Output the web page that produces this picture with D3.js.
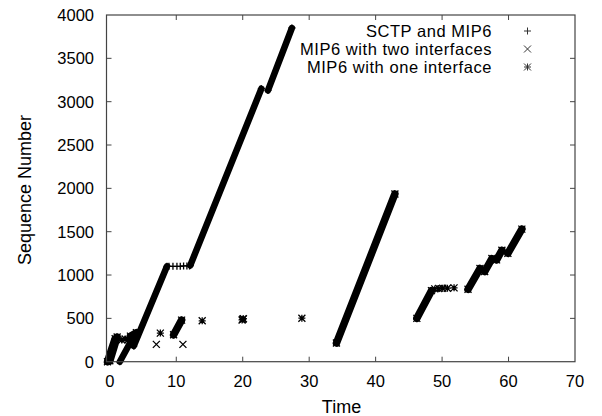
<!DOCTYPE html>
<html>
<head>
<meta charset="utf-8">
<script src="https://cdn.jsdelivr.net/npm/d3@7"></script>
<style>
  body { margin: 0; background: #fff; }
  svg text { font-family: "Liberation Sans", Arial, Helvetica, sans-serif; fill: #000; }
</style>
</head>
<body>
<div id="dataviz"></div>
<script>
// dense runs of packets, drawn as bands: [t0, seq0, t1, seq1]
var sctpRuns = [[1.5, 0, 3.1, 225], [3.6, 180, 8.6, 1100], [12.1, 1110, 22.8, 3150], [23.8, 3130, 27.4, 3850]];
var sctpPoints = [[8.9, 1100], [9.5, 1100], [10.1, 1100], [10.6, 1100], [11.1, 1105], [11.6, 1105], [12.0, 1105]];

var twoRuns = [[34.1, 215, 42.9, 1935]];
var twoPoints = [[7.0, 200], [11.0, 200]];

var oneRuns = [[-0.35, 0, 0.8, 265], [0.0, 10, 1.1, 285], [3.1, 295, 4.0, 335],
               [9.6, 310, 10.8, 480], [46.2, 500, 48.4, 820], [53.9, 835, 55.7, 1075],
               [56.4, 1040, 57.5, 1190], [58.2, 1175, 59.0, 1285], [59.9, 1250, 62.0, 1530]];
var onePoints = [[1.8, 250], [2.3, 262], [2.8, 255], [3.2, 270], [7.6, 330], [13.9, 472],
                 [19.9, 482], [20.0, 490], [20.1, 496], [28.9, 502],
                 [48.9, 840], [49.5, 845], [50.1, 848], [50.8, 848], [51.8, 852]];

var seriesNames = ["SCTP and MIP6", "MIP6 with two interfaces", "MIP6 with one interface"];
var seriesMarks = ["plus", "cross", "star"];
var seriesRuns = [sctpRuns, twoRuns, oneRuns];
var seriesPoints = [sctpPoints, twoPoints, onePoints];

var xTicks = [0, 10, 20, 30, 40, 50, 60, 70];
var yTicks = [0, 500, 1000, 1500, 2000, 2500, 3000, 3500, 4000];

function drawChart() {
    var W = 602, H = 416;
    var m = { left: 106.5, right: 575, top: 15, bottom: 361.7 };
    var runWidths = [6.5, 7.5, 7.5];

    var svg = d3.select("#dataviz").append("svg")
        .attr("width", W).attr("height", H);

    var x = d3.scaleLinear().domain([-0.5, 70]).range([m.left, m.right]);
    var y = d3.scaleLinear().domain([0, 4000]).range([m.bottom, m.top]);

    // marker shapes
    function markPath(kind, s) {
        var p = "";
        if (kind == "plus" || kind == "star") p += "M" + (-s) + ",0H" + s + "M0," + (-s) + "V" + s;
        if (kind == "cross" || kind == "star") p += "M" + (-s) + "," + (-s) + "L" + s + "," + s + "M" + (-s) + "," + s + "L" + s + "," + (-s);
        return p;
    }

    var plot = svg.append("g");
    seriesRuns.forEach(function (runs, i) {
        var g = plot.append("g");
        g.selectAll("line.run")
            .data(runs)
            .enter()
            .append("line")
            .attr("x1", function (d) { return x(d[0]); })
            .attr("y1", function (d) { return y(d[1]); })
            .attr("x2", function (d) { return x(d[2]); })
            .attr("y2", function (d) { return y(d[3]); })
            .attr("stroke", "#000")
            .attr("stroke-width", runWidths[i])
            .attr("stroke-linecap", "round");
        // ragged run ends
        var ends = [];
        runs.forEach(function (r) { ends.push([r[0], r[1]], [r[2], r[3]]); });
        g.selectAll("path.end")
            .data(ends.concat(seriesPoints[i]))
            .enter()
            .append("path")
            .attr("transform", function (d) { return "translate(" + x(d[0]) + "," + y(d[1]) + ")"; })
            .attr("d", markPath(seriesMarks[i], 3.5))
            .attr("stroke", "#000")
            .attr("stroke-width", 1.3)
            .attr("fill", "none");
    });

    // frame and ticks on all four sides
    var axisColor = "#444";
    svg.append("rect")
        .attr("x", m.left).attr("y", m.top)
        .attr("width", m.right - m.left).attr("height", m.bottom - m.top)
        .attr("fill", "none").attr("stroke", axisColor).attr("stroke-width", 1.2);

    var tickLen = 5;
    xTicks.slice(1, -1).forEach(function (t) {
        svg.append("line").attr("x1", x(t)).attr("x2", x(t)).attr("y1", m.bottom).attr("y2", m.bottom - tickLen)
            .attr("stroke", axisColor);
        svg.append("line").attr("x1", x(t)).attr("x2", x(t)).attr("y1", m.top).attr("y2", m.top + tickLen)
            .attr("stroke", axisColor);
    });
    yTicks.slice(1, -1).forEach(function (t) {
        svg.append("line").attr("x1", m.left).attr("x2", m.left + tickLen).attr("y1", y(t)).attr("y2", y(t))
            .attr("stroke", axisColor);
        svg.append("line").attr("x1", m.right).attr("x2", m.right - tickLen).attr("y1", y(t)).attr("y2", y(t))
            .attr("stroke", axisColor);
    });

    svg.selectAll("text.xt")
        .data(xTicks)
        .enter()
        .append("text")
        .attr("x", function (d) { return x(d); })
        .attr("y", 386.5)
        .attr("text-anchor", "middle")
        .style("font-size", "16.5px")
        .text(function (d) { return d; });

    svg.selectAll("text.yt")
        .data(yTicks)
        .enter()
        .append("text")
        .attr("x", 94)
        .attr("y", function (d) { return y(d) + 6; })
        .attr("text-anchor", "end")
        .style("font-size", "16.5px")
        .text(function (d) { return d; });

    svg.append("text")
        .attr("x", 341.5)
        .attr("y", 413)
        .attr("text-anchor", "middle")
        .style("font-size", "18px")
        .text("Time");

    svg.append("text")
        .attr("transform", "translate(31,190)rotate(-90)")
        .attr("text-anchor", "middle")
        .style("font-size", "18px")
        .text("Sequence Number");

    // legend
    var legend = svg.append("g");
    seriesNames.forEach(function (name, i) {
        var ly = 31 + i * 18;
        legend.append("text")
            .attr("x", 492)
            .attr("y", ly + 5.5)
            .attr("text-anchor", "end")
            .style("font-size", "16.5px")
            .style("letter-spacing", "0.55px")
            .text(name);
        legend.append("path")
            .attr("transform", "translate(527.5," + ly + ")")
            .attr("d", markPath(seriesMarks[i], 3.5))
            .attr("stroke", "#333")
            .attr("stroke-width", 1)
            .attr("fill", "none");
    });
}

drawChart();
</script>
</body>
</html>
